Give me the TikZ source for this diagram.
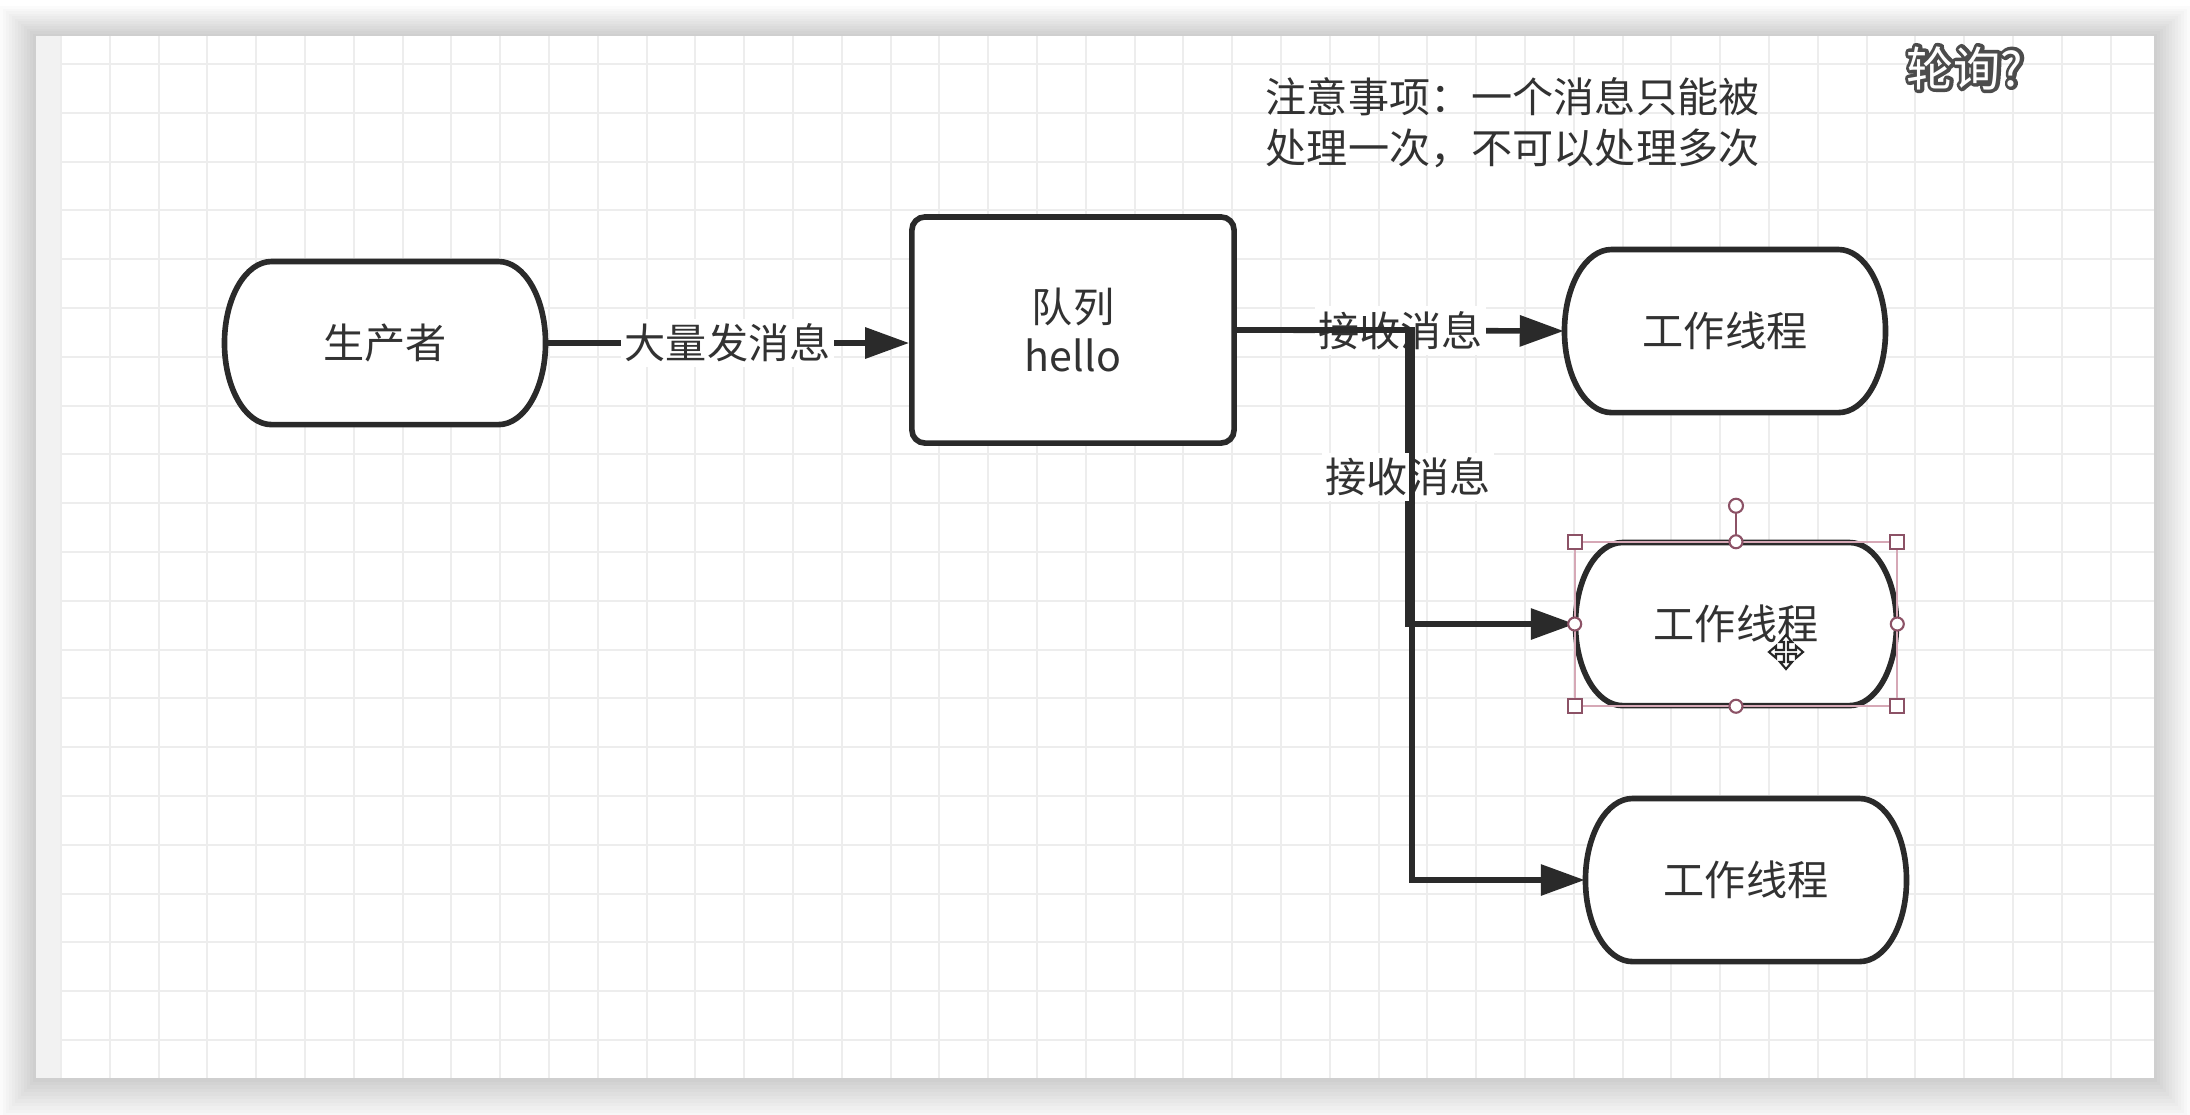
\documentclass[tikz,border=0pt]{standalone}
\usepackage{fontspec}
\newfontfamily\cjk{Noto Sans CJK SC}
\usetikzlibrary{arrows.meta,calc}

\definecolor{inkline}{RGB}{42,42,42}
\definecolor{inktext}{RGB}{50,50,50}
\definecolor{gridgray}{RGB}{237,237,237}
\definecolor{stripgray}{RGB}{242,242,242}
\definecolor{handlered}{RGB}{140,82,102}
\definecolor{selpink}{RGB}{214,168,182}

\tikzset{
  txt/.style={text=inktext, font=\cjk\fontsize{11.7pt}{14.6pt}\selectfont},
  shape line/.style={draw=inkline, line width=1.6pt, fill=white},
  capsule/.style={txt, minimum width=3.21cm, minimum height=1.63cm, inner sep=0pt},
  queuebox/.style={shape line, txt, rounded corners=0.13cm, minimum width=3.22cm,
    minimum height=2.26cm, align=center, font=\cjk\fontsize{11.7pt}{14.2pt}\selectfont},
  flow/.style={draw=inkline, line width=1.6pt, -{Triangle[length=12.5pt,width=8.6pt]}},
  lbl/.style={txt, fill=white, inner xsep=1pt, inner ysep=1.5pt},
  gridline/.style={draw=gridgray, line width=0.6pt},
  handle/.style={draw=handlered, fill=white, line width=0.6pt},
  polltxt/.style={font=\cjk\fontsize{13.4pt}{15pt}\selectfont},
}

% capsule outline with half-ellipse ends, then the named node on top
\newcommand{\capsulenode}[3]{%
  \draw[shape line] #2 ++(-113.5,-81.5) -- ++(227,0)
    arc[start angle=90, end angle=-90, x radius=0.47cm, y radius=0.815cm]
    -- ++(-227,0)
    arc[start angle=270, end angle=90, x radius=0.47cm, y radius=0.815cm] -- cycle;
  \node[capsule] (#1) at #2 {#3};
}
% glyphs filled and stroked (outline behind the white caption)
\newcommand{\strokedtext}[1]{\special{pdf:literal direct 2 Tr 2 w 1 j}#1}

\begin{document}
\begin{tikzpicture}[x=0.01cm, y=-0.01cm]
    \useasboundingbox (0,0) rectangle (2190,1114);
    % page, shadow and canvas
    \fill[white] (0,0) rectangle (2190,1114);
    \foreach \k in {1,...,12}
        \fill[black, opacity=0.014] ({36-3*\k},{36-2.5*\k}) rectangle ({2154+3*\k},{1078+3.5*\k});
    \fill[white] (36,36) rectangle (2154,1078);
    \fill[stripgray] (36,36) rectangle (60,1078);
    % grid
    \foreach \i in {0,...,42}
        \draw[gridline] ({61+48.8*\i},36) -- ({61+48.8*\i},1078);
    \foreach \j in {0,...,20}
        \draw[gridline] (60,{64+48.8*\j}) -- (2154,{64+48.8*\j});

    % nodes
    \capsulenode{producer}{(385,343)}{生产者}
    \node[queuebox] (queue) at (1073,330) {队列\\hello};
    \capsulenode{w1}{(1725,331)}{工作线程}
    \capsulenode{w2}{(1736,624)}{工作线程}
    \capsulenode{w3}{(1746,880)}{工作线程}
    \node[txt, anchor=west, align=left, inner xsep=0pt] (note) at (1265,123)
        {注意事项：一个消息只能被\\处理一次，不可以处理多次};

    % edges
    \draw[flow] (producer.east) -- node[lbl] {大量发消息} (producer.east -| queue.west);
    \draw[flow] (queue.east) -- node[lbl] {接收消息} (w1.west);
    \coordinate (fork) at ([xshift=1.71cm]queue.east);
    \coordinate (fork3) at ([xshift=1.75cm]queue.east);
    \draw[flow] (queue.east) -- (fork) -- node[lbl] {接收消息} (fork |- w2.west) -- (w2.west);
    \draw[flow] (queue.east) -- (fork3) |- (w3.west);

    % selection handles on the middle worker
    \draw[selpink, line width=0.5pt] (w2.north west) rectangle (w2.south east);
    \draw[handlered, line width=0.6pt] (w2.north) -- ++(0,-29) coordinate (rot);
    \draw[handle] ($(rot)+(0,-7)$) circle[radius=0.07cm];
    \foreach \a in {north west,north east,south west,south east}
        \draw[handle] ($(w2.\a)+(-7,-7)$) rectangle ++(14,14);
    \foreach \a in {north,south,east,west}
        \draw[handle] (w2.\a) circle[radius=0.065cm];
    % move cursor
    \coordinate (cursor) at (1786,652);
    \draw[black!85, fill=white, line width=0.6pt, line join=miter, shift={(cursor)}]
        (0,-17) -- (6,-10) -- (2,-10) -- (2,-2) -- (10,-2) -- (10,-6) -- (17,0) -- (10,6)
        -- (10,2) -- (2,2) -- (2,10) -- (6,10) -- (0,17) -- (-6,10) -- (-2,10) -- (-2,2)
        -- (-10,2) -- (-10,6) -- (-17,0) -- (-10,-6) -- (-10,-2) -- (-2,-2) -- (-2,-10)
        -- (-6,-10) -- cycle;

    % outlined caption
    \node[polltxt, text=black!70] (pollrim) at (1965,68) {\strokedtext{轮询?}};
    \node[polltxt, text=white] (poll) at (pollrim) {轮询?};
\end{tikzpicture}
\end{document}
